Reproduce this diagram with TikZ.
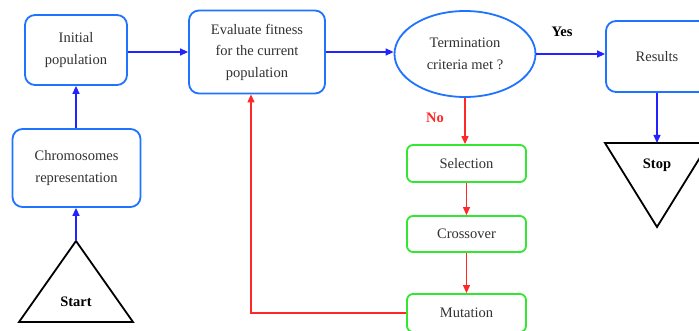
\documentclass[tikz,border=0pt]{standalone}
\usepackage{fontspec}
\setmainfont{Liberation Serif}
\usetikzlibrary{shapes.geometric,arrows.meta}
\definecolor{boxblue}{RGB}{30,115,255}
\definecolor{arrblue}{RGB}{35,35,255}
\definecolor{boxgreen}{RGB}{50,230,50}
\definecolor{arrred}{RGB}{255,40,40}
\definecolor{txt}{RGB}{50,50,50}
\tikzset{
  bluebox/.style={draw=boxblue, line width=1.8pt, rounded corners=10pt, align=center, text=txt, inner sep=0pt, font=\fontsize{14.5}{21.5}\selectfont},
  greenbox/.style={draw=boxgreen, line width=1.8pt, rounded corners=6pt, align=center, text=txt, inner sep=0pt, minimum width=119pt, font=\fontsize{14.5}{21.5}\selectfont},
  bluearr/.style={draw=arrblue, line width=1.3pt, -{Triangle[length=8pt,width=7pt]}},
  redarr/.style={draw=arrred, line width=1.1pt, -{Triangle[length=8pt,width=7pt]}},
  tri/.style={draw=black, line width=1.8pt, line join=miter},
  lbl/.style={font=\bfseries\fontsize{14.5}{17}\selectfont},
}
\begin{document}
\begin{tikzpicture}[x=1pt,y=-1pt]
\useasboundingbox (0,0) rectangle (699,331);
\clip (0,0) rectangle (699,331);
\fill[white] (0,0) rectangle (699,331);

% blue boxes
\node[bluebox, minimum width=102pt, minimum height=70pt] (init) at (76,50) {Initial\\population};
\node[bluebox, minimum width=136pt, minimum height=83pt] (eval) at (257,52) {Evaluate fitness\\for the current\\population};
\node[bluebox, minimum width=128pt, minimum height=78pt] (chrom) at (76.5,168) {Chromosomes\\representation};
\node[draw=boxblue, line width=1.8pt, ellipse, minimum width=141pt, minimum height=86pt, inner sep=0pt, align=center, text=txt, font=\fontsize{14.5}{21.5}\selectfont] (ell) at (465,54) {Termination\\criteria met ?};
\node[bluebox, minimum width=102pt, minimum height=71pt] (res) at (657,56.5) {Results};

% green boxes
\node[greenbox, minimum height=37pt] (sel) at (466.5,163.5) {Selection};
\node[greenbox, minimum height=36pt] (cross) at (466.5,234) {Crossover};
\node[greenbox, minimum height=38pt] (mut) at (466.5,313) {Mutation};

% triangles
\coordinate (startapex) at (76,241);
\draw[tri] (startapex) -- (133,322) -- (19,322) -- cycle;
\node[lbl, text=black] (starttxt) at (76,302) {Start};
\coordinate (stoptop) at (657,143);
\draw[tri] (605,143) -- (709,143) -- (657,227) -- cycle;
\node[lbl, text=black] (stoptxt) at (657,165) {Stop};

% labels
\node[lbl, text=black] (yes) at (562,32) {Yes};
\node[lbl, text=arrred] (no) at (435,118) {No};

% blue arrows
\draw[bluearr] (startapex) -- (startapex |- chrom.south);
\draw[bluearr] (init.south |- chrom.north) -- (init.south);
\draw[bluearr] (eval.west -| init.east) -- (eval.west);
\draw[bluearr] (eval.east) -- (eval.east -| ell.west);
\draw[bluearr] (ell.east) -- (ell.east -| res.west);
\draw[bluearr] (res.south) -- (stoptop);

% red arrows
\draw[redarr] (ell.south) -- (ell.south |- sel.north);
\draw[redarr] (sel.south) -- (cross.north);
\draw[redarr] (cross.south) -- (mut.north);
\coordinate (fb) at (251,312);
\draw[redarr] (mut.west) -- (mut.west -| fb) -- (fb |- eval.south);
\end{tikzpicture}
\end{document}
